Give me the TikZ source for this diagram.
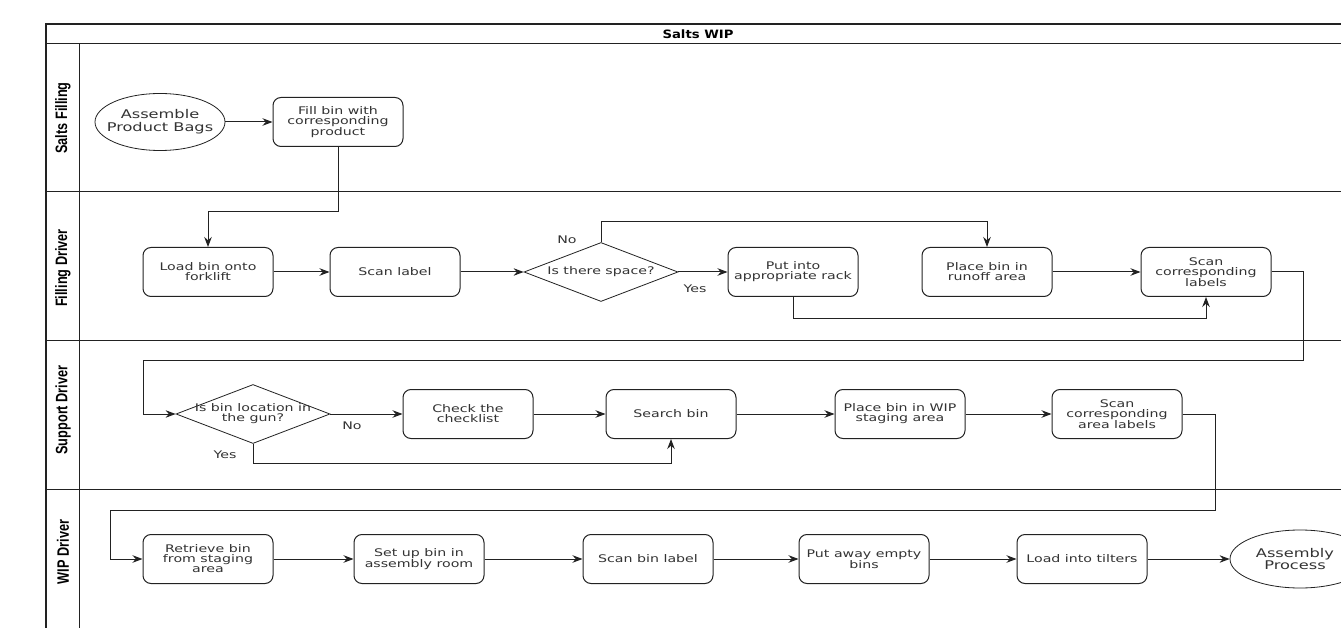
\documentclass[tikz,border=0pt]{standalone}
\usepackage{fontspec}
\setmainfont[FakeStretch=1.35]{DejaVu Sans}
\newfontfamily\lanefont[FakeStretch=0.77]{Liberation Sans}
\newfontfamily\titlefont[FakeStretch=1.15]{DejaVu Sans}
\usetikzlibrary{shapes.geometric,arrows.meta}
\definecolor{ln}{HTML}{222222}
\definecolor{tx}{HTML}{333333}
\tikzset{
  stepbox/.style={draw=ln, line width=1pt, rounded corners=8pt, minimum width=130pt, minimum height=49pt, inner sep=1pt, align=center, text=tx, font=\fontsize{10.5}{10}\selectfont},
  decbox/.style={draw=ln, line width=0.8pt, diamond, minimum width=154pt, minimum height=59pt, inner sep=0pt},
  termbox/.style={draw=ln, line width=0.8pt, ellipse, minimum width=130pt, minimum height=57pt, inner sep=0pt},
  inlabel/.style={text=tx, align=center, font=\fontsize{10.5}{10}\selectfont},
  termlabel/.style={text=tx, align=center, font=\fontsize{12}{12.7}\selectfont},
  lanelabel/.style={rotate=90, font=\lanefont\bfseries\fontsize{16.5}{16.5}\selectfont, text=black},
  arr/.style={draw=ln, line width=1pt, -{Stealth[length=10pt,width=7.5pt]}},
  frame/.style={draw=ln, line width=1pt},
  smalltxt/.style={text=tx, font=\fontsize{10.5}{10}\selectfont}
}
\begin{document}
\begin{tikzpicture}[x=1pt,y=-1pt]
\useasboundingbox[fill=white] (0,0) rectangle (1341,628);
% frame
\draw[frame, line width=1.4pt] (1341,24) -- (46,24) -- (46,628);
\draw[frame] (46,44) -- (1341,44);
\draw[frame] (79,44) -- (79,628);
\draw[frame] (46,192) -- (1341,192);
\draw[frame] (46,340) -- (1341,340);
\draw[frame] (46,489) -- (1341,489);
\node[font=\titlefont\bfseries\fontsize{11.5}{11.5}\selectfont, text=black] (title) at (698,34) {Salts WIP};
\node[lanelabel] (l1) at (63,118) {Salts Filling};
\node[lanelabel] (l2) at (63,268) {Filling Driver};
\node[lanelabel] (l3) at (63,410) {Support Driver};
\node[lanelabel] (l4) at (63,552) {WIP Driver};

% lane 1
\node[termbox, label={[termlabel]center:Assemble\\Product Bags}] (start) at (160,122) {};
\node[stepbox] (fill) at (338,122) {Fill bin with\\corresponding\\product};
% lane 2
\node[stepbox] (load) at (208,272) {Load bin onto\\forklift};
\node[stepbox] (scan) at (395,272) {Scan label};
\node[decbox, label={[inlabel]center:Is there space?}] (space) at (601,272) {};
\node[stepbox] (rack) at (793,272) {Put into\\appropriate rack};
\node[stepbox] (runoff) at (987,272) {Place bin in\\runoff area};
\node[stepbox] (scancorr) at (1206,272) {Scan\\corresponding\\labels};
% lane 3
\node[decbox, label={[inlabel]center:Is bin location in\\the gun?}] (gun) at (253,414) {};
\node[stepbox] (check) at (468,414) {Check the\\checklist};
\node[stepbox] (search) at (671,414) {Search bin};
\node[stepbox] (wip) at (900,414) {Place bin in WIP\\staging area};
\node[stepbox] (scanarea) at (1117,414) {Scan\\corresponding\\area labels};
% lane 4
\node[stepbox] (retrieve) at (208,559) {Retrieve bin\\from staging\\area};
\node[stepbox] (setup) at (419,559) {Set up bin in\\assembly room};
\node[stepbox] (scanbin) at (648,559) {Scan bin label};
\node[stepbox] (putaway) at (864,559) {Put away empty\\bins};
\node[stepbox] (tilters) at (1082,559) {Load into tilters};
\node[termbox, minimum width=140pt, minimum height=58pt, label={[termlabel, xshift=-5pt]center:Assembly\\Process}] (asm) at (1300,559) {};

% connectors
\draw[arr] (start) -- (fill);
\draw[arr] (fill.south) -- (fill.south |- 0,212) -| (load.north);
\draw[arr] (load) -- (scan);
\draw[arr] (scan) -- (space.west);
\draw[arr] (space.east) -- (rack.west);
\node[smalltxt] (yes1) at (695,289) {Yes};
\draw[arr] (space.north) -- (space.north |- 0,222) -| (runoff.north);
\node[smalltxt] (no1) at (567,240) {No};
\draw[arr] (runoff) -- (scancorr);
\draw[arr] (rack.south) -- (rack.south |- 0,318) -| (scancorr.south);
\coordinate (c1) at (1303,360);
\coordinate (c2) at (143,360);
\draw[arr] (scancorr.east) -| (c1) -- (c2) |- (gun.west);
\draw[arr] (gun.east) -- (check.west);
\node[smalltxt] (no2) at (352,426) {No};
\draw[arr] (check) -- (search);
\draw[arr] (gun.south) -- (gun.south |- 0,463) -| (search.south);
\node[smalltxt] (yes2) at (225,455) {Yes};
\draw[arr] (search) -- (wip);
\draw[arr] (wip) -- (scanarea);
\coordinate (c3) at (1215,510);
\coordinate (c4) at (110,510);
\draw[arr] (scanarea.east) -| (c3) -- (c4) |- (retrieve.west);
\draw[arr] (retrieve) -- (setup);
\draw[arr] (setup) -- (scanbin);
\draw[arr] (scanbin) -- (putaway);
\draw[arr] (putaway) -- (tilters);
\draw[arr] (tilters.east) -- (asm.west);
\end{tikzpicture}
\end{document}
